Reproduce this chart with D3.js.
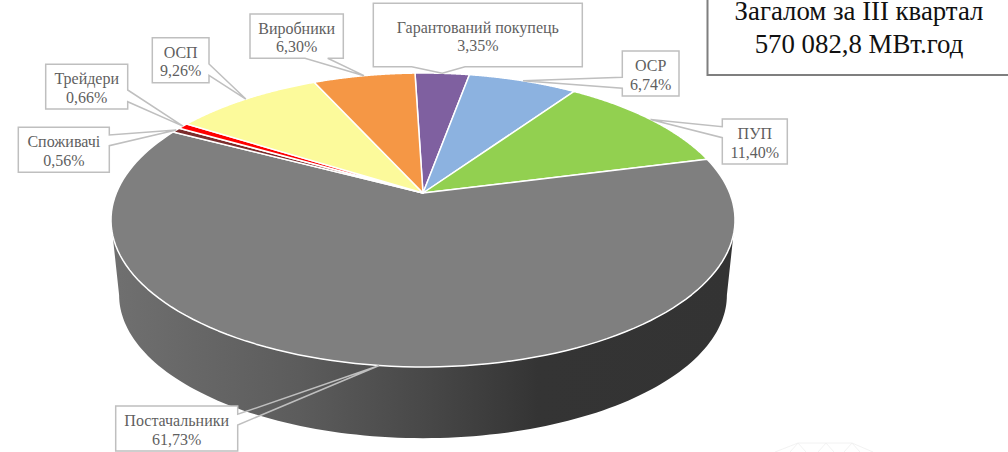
<!DOCTYPE html>
<html lang="uk">
<head>
<meta charset="utf-8">
<script src="https://cdn.jsdelivr.net/npm/d3@7"></script>
<style>
html,body{margin:0;padding:0;background:#fff;overflow:hidden}
svg{display:block}
</style>
</head>
<body>
<svg id="chart" width="1008" height="452"></svg>
<script>
// ---- data (clockwise, from the top of the pie) ----
const categories = ["Гарантований покупець","ОСР","ПУП","Постачальники","Споживачі","Трейдери","ОСП","Виробники"];
const shares = [3.35,6.74,11.40,61.73,0.56,0.66,9.26,6.30];
const sliceColors = ["#7f60a0","#8cb2e0","#92d050","#7f7f7f","#7b2c2c","#ff0000","#fcfa9b","#f59745"];
const totalLines = ["Загалом за III квартал","570 082,8 МВт.год"];

// ---- layout ----
const W = 1008, H = 452;
const firstAngle = -1.77 * Math.PI / 180;
const persp = {cx:423, cy:193, A:306.7, B:142, k:0.1837};
const wall = {scale:0.974, dy:75.7};
const calloutBoxes = [
  {x:373.3,y:3.3,w:209,h:63.4,side:"bottom",a:411.7,b:465},
  {x:622.3,y:51,w:56.7,h:45,side:"left",a:77.3,b:88.3},
  {x:722.3,y:119,w:65,h:45,side:"left",a:126.7,b:137.7},
  {x:115.7,y:406,w:122,h:45,side:"right",a:414.3,b:425},
  {x:18.3,y:127.3,w:91,h:45,side:"right",a:135,b:145.7},
  {x:45.7,y:64.3,w:82,h:44.7,side:"right",a:90,b:101.7},
  {x:152.3,y:37.7,w:56.7,h:45,side:"right",a:64,b:75.3},
  {x:250,y:14,w:93.3,h:44.3,side:"bottom",a:305,b:327.7}
];

const svg = d3.select("#chart").attr("viewBox",[0,0,W,H]);

// perspective projection of a pie-circle angle onto the page
function project(theta, r = 1, s = 1, dy = 0){
  const u = r*Math.sin(theta), v = r*Math.cos(theta), w = 1 + persp.k*v;
  return [persp.cx + s*persp.A*u/w, persp.cy + dy - s*persp.B*v/w];
}
const arcPoints = (a0,a1,s,dy) => d3.range(0,121).map(i => project(a0+(a1-a0)*i/120,1,s,dy));
const line = d3.line();

const pie = d3.pie().sort(null).value(d=>d)
  .startAngle(firstAngle).endAngle(firstAngle+2*Math.PI);
const arcs = pie(shares);
const pctFmt = d3.formatLocale({decimal:",",thousands:" ",grouping:[3],currency:["",""]}).format(".2f");

// side wall
const defs = svg.append("defs");
const grad = defs.append("linearGradient").attr("id","wallGrad")
  .attr("gradientUnits","userSpaceOnUse").attr("x1",110).attr("x2",740).attr("y1",0).attr("y2",0);
[[0,"#707070"],[0.3,"#5c5c5c"],[0.5,"#484848"],[0.68,"#343434"],[1,"#333333"]]
  .forEach(([o,c])=>grad.append("stop").attr("offset",o).attr("stop-color",c));
const tanA = Math.PI - Math.asin(Math.sqrt(1-persp.k*persp.k)), tanB = 2*Math.PI - tanA;
const wallPts = arcPoints(tanA,tanB,1,0).concat(arcPoints(tanB,tanA,wall.scale,wall.dy));
svg.append("path").attr("d",line(wallPts)+"Z").attr("fill","url(#wallGrad)");

// top face
svg.append("g").selectAll("path").data(arcs).join("path")
  .attr("d",d=>line([project(0,0)].concat(arcPoints(d.startAngle,d.endAngle,1,0)))+"Z")
  .attr("fill",(d,i)=>sliceColors[i])
  .attr("stroke","#fff").attr("stroke-width",1.5).attr("stroke-linejoin","round");

// callouts
const labels = svg.append("g").selectAll("g").data(arcs).join("g");
labels.each(function(d,i){
  const g = d3.select(this), b = calloutBoxes[i];
  const tip = project((d.startAngle+d.endAngle)/2);
  const x0=b.x,x1=b.x+b.w,y0=b.y,y1=b.y+b.h;
  let pts;
  if(b.side==="bottom") pts=[[x0,y0],[x1,y0],[x1,y1],[b.b,y1],tip,[b.a,y1],[x0,y1]];
  if(b.side==="left")   pts=[[x0,y0],[x1,y0],[x1,y1],[x0,y1],[x0,b.b],tip,[x0,b.a]];
  if(b.side==="right")  pts=[[x0,y0],[x1,y0],[x1,b.a],tip,[x1,b.b],[x1,y1],[x0,y1]];
  g.append("rect").attr("x",x0).attr("y",y0).attr("width",b.w).attr("height",b.h).attr("fill","#fff");
  g.append("path").attr("d",line(pts)+"Z").attr("fill","none")
    .attr("stroke","#bfbfbf").attr("stroke-width",1.5).attr("stroke-linejoin","miter");
  const t = g.append("text").attr("text-anchor","middle")
    .attr("font-family","'Liberation Serif',serif").attr("font-size",16).attr("fill","#5f5f5f");
  const cx=(x0+x1)/2, cy=(y0+y1)/2;
  t.append("tspan").attr("x",cx).attr("y",cy-2.5).text(categories[i]);
  t.append("tspan").attr("x",cx).attr("y",cy+16).text(pctFmt(shares[i])+"%");
});

// total box
svg.append("path").attr("d",line([[707.5,-2],[707.5,75],[W+2,75]]))
  .attr("fill","none").attr("stroke","#7f7f7f").attr("stroke-width",2);
svg.append("g").selectAll("text").data(totalLines).join("text")
  .attr("x",859).attr("y",(d,i)=>20+i*33.3).attr("text-anchor","middle")
  .attr("font-family","'Liberation Serif',serif").attr("font-size",26.8).attr("fill","#111")
  .text(d=>d);

// faint background decoration, bottom right
svg.append("path")
  .attr("d","M775 452L798 443H852L873 452M790 452L798 443L806 452M818 452L826 443L834 452M844 452L852 443L860 452")
  .attr("fill","none").attr("stroke","#efefef").attr("stroke-width",0.8);
</script>
</body>
</html>
